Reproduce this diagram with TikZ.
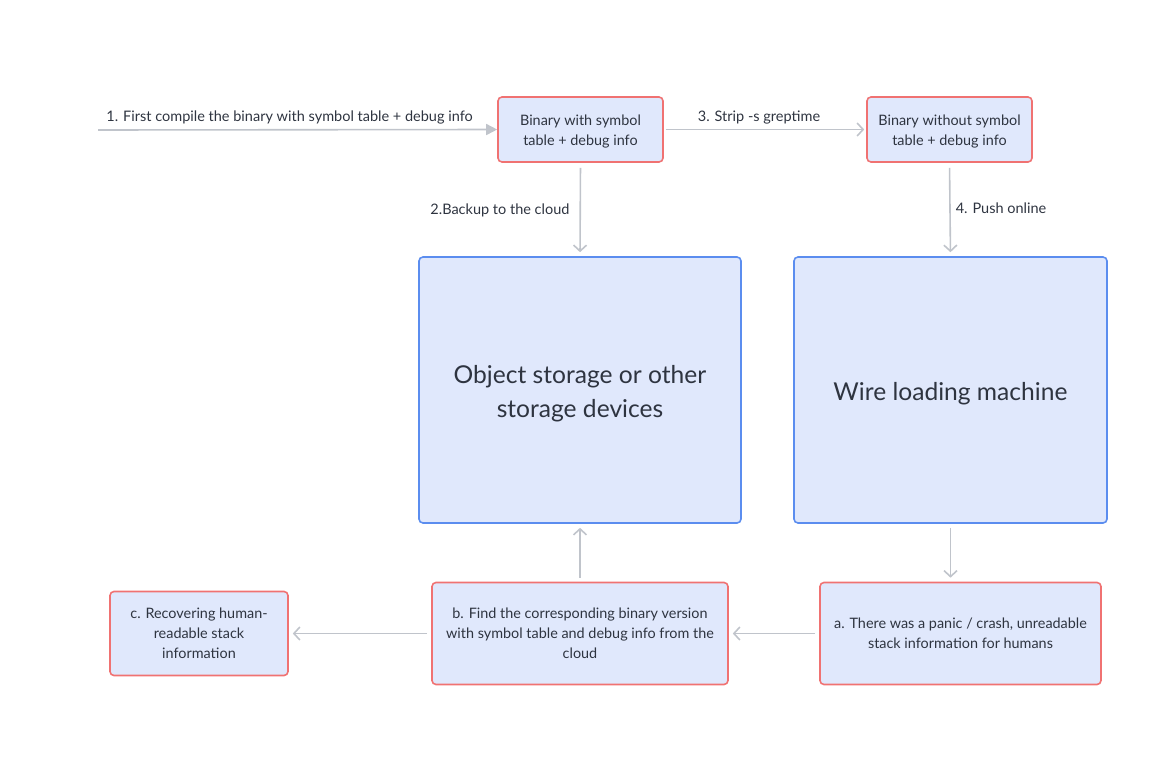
\documentclass[tikz,border=0pt]{standalone}
\usepackage{fontspec}
\setmainfont{Lato}
\usetikzlibrary{arrows.meta}
\definecolor{boxfill}{HTML}{E0E8FC}
\definecolor{redline}{HTML}{F07272}
\definecolor{blueline}{HTML}{5B8DEF}
\definecolor{arrowgray}{HTML}{C0C4CB}
\definecolor{txt}{HTML}{2E3440}
\tikzset{
  px/.style={x=1pt,y=-1pt},
  redbox/.style={draw=redline, fill=boxfill, line width=1.6pt, rounded corners=4pt, align=center, text=txt, font=\fontsize{14.4}{20}\selectfont, inner sep=0pt},
  smalltext/.style={align=center, text=txt, font=\fontsize{14.4}{20}\selectfont, inner sep=0pt, yshift=-2.5pt},
  bluebox/.style={draw=blueline, fill=boxfill, line width=1.6pt, rounded corners=4pt, inner sep=0pt},
  bigtext/.style={align=center, text=txt, font=\fontsize{24.6}{34}\selectfont, inner sep=0pt, yshift=-4pt},
  conn/.style={draw=arrowgray, line width=1.6pt, -{Straight Barb[length=6pt,width=13pt,line width=1.6pt]}},
  connfill/.style={draw=arrowgray, line width=1.6pt, -{Triangle[length=11pt,width=11pt]}},
  lbl/.style={text=txt, font=\fontsize{14.5}{18}\selectfont, inner sep=0pt}
}
\begin{document}
\begin{tikzpicture}[px]
\useasboundingbox (0,0) rectangle (1170,760);
\node[redbox, minimum width=165pt, minimum height=65pt, label={[smalltext]center:Binary with symbol\\table + debug info}] (b1) at (580.5,129.5) {};
\node[redbox, minimum width=165pt, minimum height=65pt, label={[smalltext]center:Binary without symbol\\table + debug info}] (b2) at (949.5,129.5) {};
\node[bluebox, minimum width=322pt, minimum height=266pt, label={[bigtext]center:Object storage or other\\storage devices}] (obj) at (580,390) {};
\node[bluebox, minimum width=313pt, minimum height=266pt, label={[bigtext]center:Wire loading machine}] (wire) at (950.5,390) {};
\node[redbox, minimum width=281pt, minimum height=102pt] (a) at (960.5,633.5) {a. There was a panic / crash, unreadable\\stack information for humans};
\node[redbox, minimum width=296pt, minimum height=102pt] (b) at (580,633.5) {b. Find the corresponding binary version\\with symbol table and debug info from the\\cloud};
\node[redbox, minimum width=178pt, minimum height=84pt] (c) at (199,633.5) {c. Recovering human-\\readable stack\\information};
\coordinate (start) at (98,130);
\draw[connfill] (start) -- (b1.west) node[lbl, pos=0.48, above=5pt] {1. First compile the binary with symbol table + debug info};
\draw[conn, shorten <=2pt, shorten >=2pt] (b1.east) -- (b2.west) node[lbl, midway, above=5pt, xshift=-6pt] {3. Strip -s greptime};
\draw[conn, shorten <=5pt, shorten >=4pt] (b1.south) -- (obj.north) node[lbl, midway, left=10pt, yshift=-1pt] {2.Backup to the cloud};
\draw[conn, shorten <=5pt, shorten >=4pt] (b2.south) -- (wire.north) node[lbl, midway, right=5pt, yshift=1pt] {4. Push online};
\draw[conn, shorten <=4pt, shorten >=4pt] (wire.south) -- (wire.south |- a.north);
\draw[conn, shorten <=4pt, shorten >=4pt] (a.west) -- (b.east);
\draw[conn, shorten <=4pt, shorten >=4pt] (b.north) -- (obj.south);
\draw[conn, shorten <=4pt, shorten >=4pt] (b.west) -- (c.east);
\end{tikzpicture}
\end{document}
